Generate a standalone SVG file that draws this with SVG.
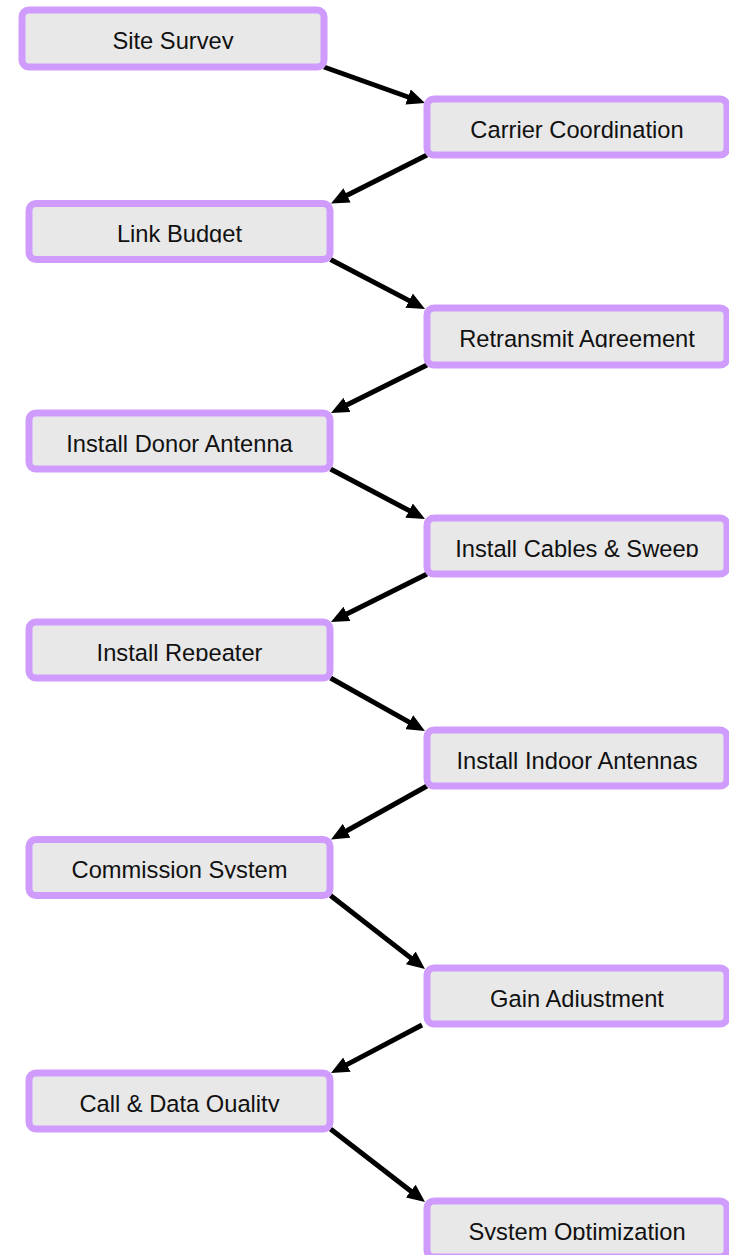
<svg xmlns="http://www.w3.org/2000/svg" width="729" height="1255" viewBox="0 0 729 1255">
<style>
.box{fill:#e8e8e8;stroke:#cf9bfd;stroke-width:7}
.lbl{font-family:"Liberation Sans",Arial,sans-serif;font-size:23.7px;fill:#111;text-anchor:middle}
.edge{stroke:#000;stroke-width:5;fill:none}
</style>
<defs>
<marker id="ah" markerUnits="userSpaceOnUse" markerWidth="18" markerHeight="16" refX="6" refY="8" orient="auto" viewBox="0 0 18 16">
<path d="M0,0 L18,8 L0,16 z" fill="#000"/>
</marker>
<clipPath id="cut" clipPathUnits="objectBoundingBox"><rect x="-0.1" y="0" width="1.2" height="0.83"/></clipPath>
</defs>
<rect width="729" height="1255" fill="#fff"/>
<g id="connectors">
<line class="edge" x1="324" y1="67" x2="413.7" y2="99" marker-end="url(#ah)"/>
<line class="edge" x1="427" y1="155" x2="341.7" y2="198.1" marker-end="url(#ah)"/>
<line class="edge" x1="330.5" y1="259.5" x2="414.4" y2="303.4" marker-end="url(#ah)"/>
<line class="edge" x1="427" y1="365" x2="341.7" y2="407.6" marker-end="url(#ah)"/>
<line class="edge" x1="330.5" y1="469" x2="414.4" y2="513.4" marker-end="url(#ah)"/>
<line class="edge" x1="427" y1="574" x2="341.7" y2="616.6" marker-end="url(#ah)"/>
<line class="edge" x1="330.5" y1="678" x2="414.5" y2="725.1" marker-end="url(#ah)"/>
<line class="edge" x1="427" y1="786" x2="341.5" y2="833.7" marker-end="url(#ah)"/>
<line class="edge" x1="330.5" y1="895.5" x2="415.5" y2="961.6" marker-end="url(#ah)"/>
<line class="edge" x1="422" y1="1025" x2="341.6" y2="1067.4" marker-end="url(#ah)"/>
<line class="edge" x1="330.5" y1="1129" x2="415.5" y2="1194.7" marker-end="url(#ah)"/>
</g>
<g id="n1"><rect class="box" x="22" y="10" width="302" height="57" rx="7"/><text class="lbl" x="173" y="48.5" clip-path="url(#cut)">Site Survey</text></g>
<g id="n2"><rect class="box" x="427" y="99" width="300" height="56" rx="7"/><text class="lbl" x="577" y="138" clip-path="url(#cut)">Carrier Coordination</text></g>
<g id="n3"><rect class="box" x="29" y="203.5" width="301" height="56" rx="7"/><text class="lbl" x="179.5" y="242" clip-path="url(#cut)">Link Budget</text></g>
<g id="n4"><rect class="box" x="427" y="308" width="300" height="57" rx="7"/><text class="lbl" x="577" y="347" clip-path="url(#cut)">Retransmit Agreement</text></g>
<g id="n5"><rect class="box" x="29" y="413" width="301" height="56" rx="7"/><text class="lbl" x="179.5" y="451.5" clip-path="url(#cut)">Install Donor Antenna</text></g>
<g id="n6"><rect class="box" x="427" y="518" width="300" height="56" rx="7"/><text class="lbl" x="577" y="556.5" clip-path="url(#cut)">Install Cables &amp; Sweep</text></g>
<g id="n7"><rect class="box" x="29" y="622" width="301" height="56" rx="7"/><text class="lbl" x="179.5" y="660.5" clip-path="url(#cut)">Install Repeater</text></g>
<g id="n8"><rect class="box" x="427" y="730" width="300" height="56" rx="7"/><text class="lbl" x="577" y="768.5" clip-path="url(#cut)">Install Indoor Antennas</text></g>
<g id="n9"><rect class="box" x="29" y="839.5" width="301" height="56" rx="7"/><text class="lbl" x="179.5" y="878" clip-path="url(#cut)">Commission System</text></g>
<g id="n10"><rect class="box" x="427" y="968" width="300" height="56" rx="7"/><text class="lbl" x="577" y="1006.5" clip-path="url(#cut)">Gain Adjustment</text></g>
<g id="n11"><rect class="box" x="29" y="1073" width="301" height="56" rx="7"/><text class="lbl" x="179.5" y="1111.5" clip-path="url(#cut)">Call &amp; Data Quality</text></g>
<g id="n12"><rect class="box" x="427" y="1201" width="300" height="56" rx="7"/><text class="lbl" x="577" y="1239.5" clip-path="url(#cut)">System Optimization</text></g>
</svg>
